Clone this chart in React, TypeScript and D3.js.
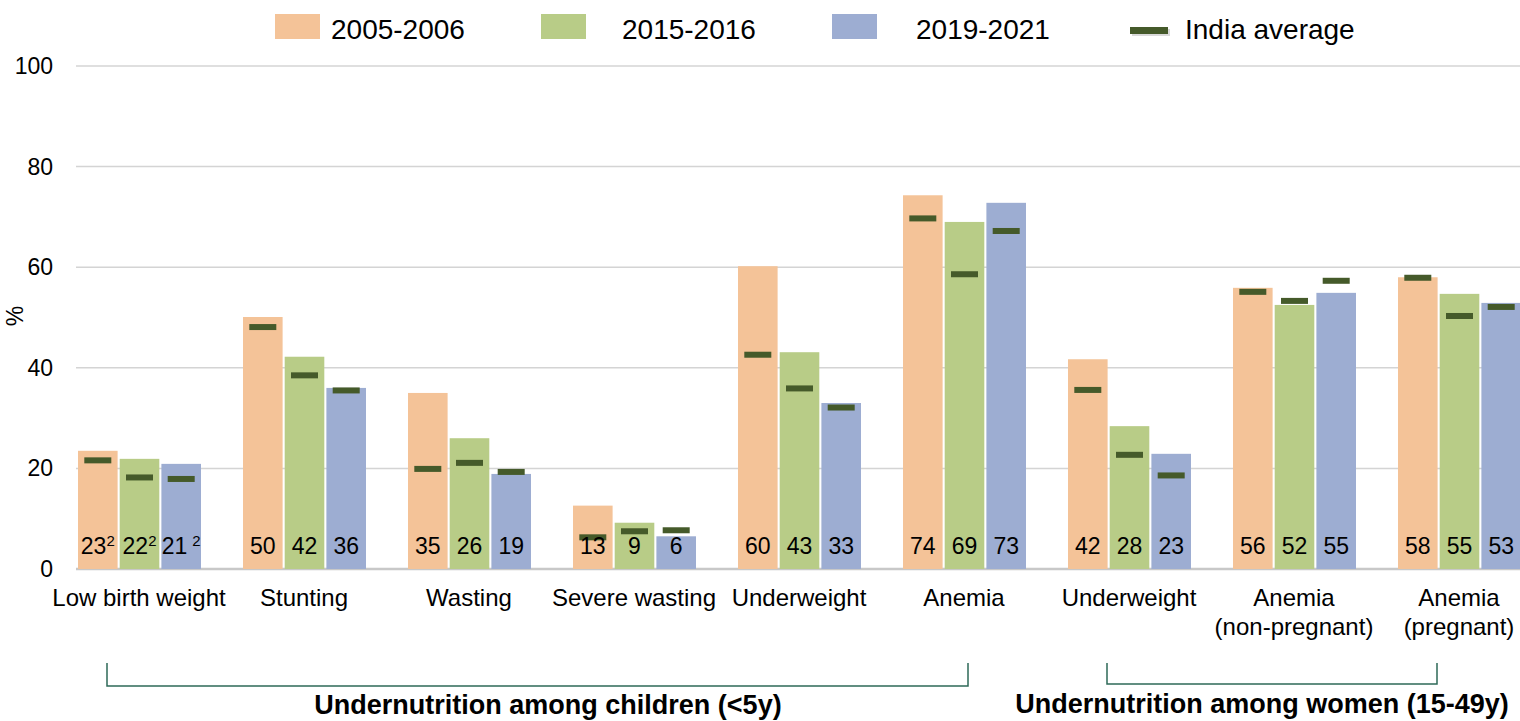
import React from "react";
import * as d3 from "d3";

const categories = [
  "Low birth weight",
  "Stunting",
  "Wasting",
  "Severe wasting",
  "Underweight",
  "Anemia",
  "Underweight ",
  "Anemia (non-pregnant)",
  "Anemia (pregnant)",
];
const categoryLines = [
  ["Low birth weight"],
  ["Stunting"],
  ["Wasting"],
  ["Severe wasting"],
  ["Underweight"],
  ["Anemia"],
  ["Underweight"],
  ["Anemia", "(non-pregnant)"],
  ["Anemia", "(pregnant)"],
];
const seriesNames = ["2005-2006", "2015-2016", "2019-2021"];
const values2005 = [23.5, 50.1, 35, 12.6, 60.2, 74.3, 41.7, 55.9, 58];
const values2015 = [21.9, 42.2, 26, 9.2, 43.1, 69, 28.4, 52.5, 54.7];
const values2019 = [20.9, 36, 18.9, 6.5, 33, 72.8, 22.9, 54.9, 52.9];
const labels2005 = ["23", "50", "35", "13", "60", "74", "42", "56", "58"];
const labels2015 = ["22", "42", "26", "9", "43", "69", "28", "52", "55"];
const labels2019 = ["21", "36", "19", "6", "33", "73", "23", "55", "53"];
const avg2005 = [21.6, 48.1, 19.9, 6.3, 42.6, 69.7, 35.6, 55.1, 57.9];
const avg2015 = [18.2, 38.5, 21.1, 7.5, 35.9, 58.6, 22.7, 53.3, 50.3];
const avg2019 = [17.9, 35.5, 19.3, 7.7, 32.1, 67.2, 18.6, 57.3, 52.1];
const yTicks = [0, 20, 40, 60, 80, 100];
const groupTitles = [
  { text: "Undernutrition among children (<5y)", from: 0, to: 5 },
  { text: "Undernutrition among women (15-49y)", from: 6, to: 8 },
];

const colors = ["#f4c398", "#b8cc87", "#9dadd2"];
const avgColor = "#455a2a";
const font = "Arial, 'Liberation Sans', sans-serif";

export default function App() {
  const W = 1520, H = 721;
  const y = d3.scaleLinear().domain([0, 100]).range([569, 66]);
  const x0 = d3.scaleBand<string>().domain(categories).range([56.5, 56.5 + 165 * 9]).padding(0);
  const x1 = d3.scaleBand<string>().domain(seriesNames).range([21.5, 144.5]).paddingInner(0.05).paddingOuter(0);
  const vals = [values2005, values2015, values2019];
  const labs = [labels2005, labels2015, labels2019];
  const avgs = [avg2005, avg2015, avg2019];
  const center = (i: number) => (x0(categories[i]) as number) + x0.bandwidth() / 2;
  const bracketEnds = [
    [center(0) - 32, center(5) + 4, 686],
    [center(6) - 22, center(8) - 22, 684],
  ];

  return (
    <svg width={W} height={H} style={{ position: "absolute", left: 0, top: 0, background: "#fff" }} fontFamily={font}>
      <rect width={W} height={H} fill="#fff" />
      {yTicks.map((t) => (
        <line key={t} x1={76} x2={1520} y1={y(t)} y2={y(t)} stroke={t === 0 ? "#c8c8c8" : "#d4d4d4"} strokeWidth={t === 0 ? 2.5 : 1.5} />
      ))}
      {yTicks.map((t) => (
        <text key={"l" + t} x={53} y={y(t) + 8} textAnchor="end" fontSize={23} fill="#000">{t}</text>
      ))}
      <text transform="translate(23,316) rotate(-90)" textAnchor="middle" fontSize={23} fill="#000">%</text>
      {categories.map((c, i) => (
        <g key={c} transform={`translate(${x0(c)},0)`}>
          {seriesNames.map((s, k) => {
            const bx = x1(s) as number;
            const bw = x1.bandwidth();
            return (
              <rect key={s} x={bx} y={y(vals[k][i])} width={bw} height={y(0) - y(vals[k][i])} fill={colors[k]} />
            );
          })}
          {seriesNames.map((s, k) => {
            const bx = x1(s) as number;
            const bw = x1.bandwidth();
            const mw = 27;
            return (
              <rect key={"a" + s} x={bx + (bw - mw) / 2} y={y(avgs[k][i]) - 3} width={mw} height={6} fill={avgColor} />
            );
          })}
          {seriesNames.map((s, k) => {
            const bx = x1(s) as number;
            const bw = x1.bandwidth();
            return (
              <text key={"t" + s} x={bx + bw / 2} y={554} textAnchor="middle" fontSize={23} fill="#000">
                {labs[k][i]}
                {i === 0 ? <tspan dx={k === 2 ? 5 : 0} dy={-8} fontSize={15}>2</tspan> : null}
              </text>
            );
          })}
        </g>
      ))}
      {categoryLines.map((lines, i) => (
        <text key={"c" + i} x={center(i)} y={606} textAnchor="middle" fontSize={24} fill="#000">
          {lines.map((ln, j) => (
            <tspan key={j} x={center(i)} dy={j === 0 ? 0 : 29}>{ln}</tspan>
          ))}
        </text>
      ))}
      {bracketEnds.map(([xa, xb, yb], idx) => (
        <path key={"b" + idx} d={`M${xa},663 L${xa},${yb} L${xb},${yb} L${xb},663`} fill="none" stroke="#2e6a58" strokeWidth={1.5} />
      ))}
      <text x={548} y={714} textAnchor="middle" fontSize={27} fontWeight="bold" fill="#000">{groupTitles[0].text}</text>
      <text x={1262} y={713} textAnchor="middle" fontSize={27} fontWeight="bold" fill="#000">{groupTitles[1].text}</text>
      {seriesNames.map((s, k) => {
        const lx = [275, 541, 832][k];
        const tx = [331, 622, 916][k];
        return (
          <g key={"lg" + s}>
            <rect x={lx} y={14} width={45} height={25} fill={colors[k]} />
            <text x={tx} y={39} fontSize={28} fill="#000">{s}</text>
          </g>
        );
      })}
      <rect x={1132} y={29} width={38} height={7} fill="#aaa" opacity={0.45} />
      <rect x={1130} y={27} width={38} height={7} fill={avgColor} />
      <text x={1185} y={39} fontSize={28} fill="#000">India average</text>
    </svg>
  );
}
